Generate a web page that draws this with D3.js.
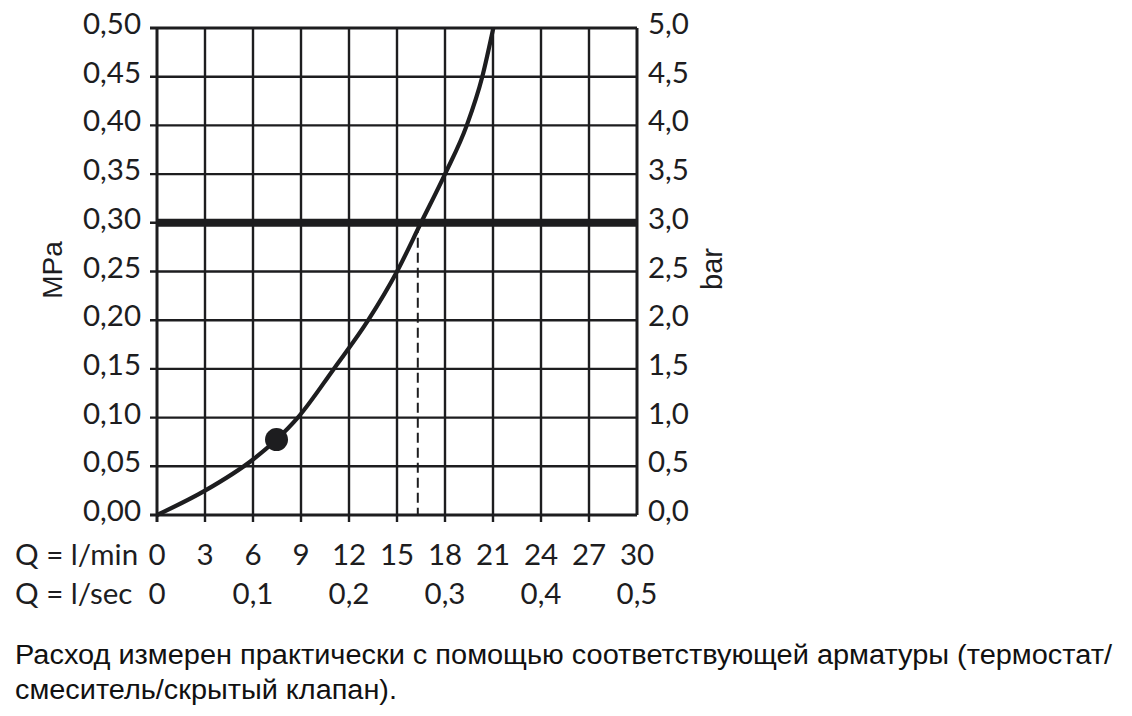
<!DOCTYPE html>
<html><head><meta charset="utf-8">
<script src="https://cdn.jsdelivr.net/npm/d3@7"></script>
<style>
html,body{margin:0;padding:0;background:#fff;}
svg{display:block;}
</style></head>
<body>
<svg id="chart" width="1132" height="716"></svg>
<script>
// ---- data ----
const flowLmin = [0, 3, 6, 7.47, 8.8, 11.05, 13.2, 15.0, 16.5, 18.0, 19.36, 20.33, 21.02];
const pressureMPa = [0, 0.025, 0.057, 0.0775, 0.10, 0.15, 0.20, 0.25, 0.30, 0.35, 0.40, 0.45, 0.50];
const markerPoint = [7.47, 0.0775];
const refPressure = 0.30;
const refFlow = 16.3;
const xTicksLmin = [0, 3, 6, 9, 12, 15, 18, 21, 24, 27, 30];
const xTicksLsec = [0, 0.1, 0.2, 0.3, 0.4, 0.5];
const yTicksMPa = [0, 0.05, 0.10, 0.15, 0.20, 0.25, 0.30, 0.35, 0.40, 0.45, 0.50];
const yTicksBar = [0, 0.5, 1.0, 1.5, 2.0, 2.5, 3.0, 3.5, 4.0, 4.5, 5.0];
const labelLmin = "Q = l/min";
const labelLsec = "Q = l/sec";
const labelMPa = "MPa";
const labelBar = "bar";
const noteLines = ["Расход измерен практически с помощью соответствующей арматуры (термостат/", "смеситель/скрытый клапан)."];

// ---- layout ----
const svg = d3.select("#chart");
const L = 157, R = 637, T = 28, B = 515;
const x = d3.scaleLinear().domain([0, 30]).range([L, R]);
const y = d3.scaleLinear().domain([0, 0.5]).range([B, T]);
const xs = d3.scaleLinear().domain([0, 0.5]).range([L, R]);
const yb = d3.scaleLinear().domain([0, 5]).range([B, T]);
const fmt = (v, d) => v.toFixed(d).replace(".", ",");
const numFont = "Lato, 'Open Sans', sans-serif";
const numSize = 29.5;
const numWeight = 400;
const ink = "#1d1d1f";

// grid
const g = svg.append("g");
g.selectAll("line.v").data(xTicksLmin).join("line")
  .attr("x1", d => x(d)).attr("x2", d => x(d))
  .attr("y1", T).attr("y2", d => (d === 30 ? B : B + 7))
  .attr("stroke", ink).attr("stroke-width", d => (d === 0 || d === 30) ? 3 : 2.4);
g.selectAll("line.h").data(yTicksMPa).join("line")
  .attr("x1", L - 7).attr("x2", R)
  .attr("y1", d => y(d)).attr("y2", d => y(d))
  .attr("stroke", ink).attr("stroke-width", d => (d === 0 || d === 0.5) ? 3.2 : 2.4);

// thick reference line
g.append("line").attr("x1", L).attr("x2", R)
  .attr("y1", y(refPressure)).attr("y2", y(refPressure))
  .attr("stroke", ink).attr("stroke-width", 8);

// dashed line
g.append("line").attr("x1", x(refFlow)).attr("x2", x(refFlow))
  .attr("y1", y(refPressure)).attr("y2", B)
  .attr("stroke", ink).attr("stroke-width", 2).attr("stroke-dasharray", "10,5");

// curve
const line = d3.line().x(d => x(d[0])).y(d => y(d[1])).curve(d3.curveMonotoneX);
g.append("path").datum(flowLmin.map((q, i) => [q, pressureMPa[i]]))
  .attr("d", line).attr("fill", "none").attr("stroke", ink).attr("stroke-width", 4.2)
  .attr("stroke-linecap", "butt");

// marker
g.append("circle").attr("cx", x(markerPoint[0])).attr("cy", y(markerPoint[1]))
  .attr("r", 11.5).attr("fill", ink);

function numText(sel) {
  return sel.attr("font-family", numFont).attr("font-weight", numWeight)
    .attr("font-size", numSize).attr("fill", ink);
}
// left labels
svg.append("g").selectAll("text").data(yTicksMPa).join("text")
  .attr("x", 141).attr("y", d => y(d) + 6)
  .attr("text-anchor", "end").call(numText).text(d => fmt(d, 2));
// right labels
svg.append("g").selectAll("text").data(yTicksBar).join("text")
  .attr("x", 648).attr("y", d => yb(d) + 6)
  .attr("text-anchor", "start").call(numText).text(d => fmt(d, 1));
// bottom labels
svg.append("g").selectAll("text").data(xTicksLmin).join("text")
  .attr("x", d => x(d)).attr("y", 565)
  .attr("text-anchor", "middle").call(numText).text(d => String(d));
svg.append("g").selectAll("text").data(xTicksLsec).join("text")
  .attr("x", d => xs(d)).attr("y", 604)
  .attr("text-anchor", "middle").call(numText).text(d => d === 0 ? "0" : fmt(d, 1));
svg.append("text").attr("x", 15).attr("y", 565).call(numText).text(labelLmin);
svg.append("text").attr("x", 15).attr("y", 604).call(numText).text(labelLsec);

// axis titles
svg.append("text").attr("transform", "translate(62,270) rotate(-90)")
  .attr("text-anchor", "middle").attr("font-family", "'Liberation Sans', Arial, sans-serif")
  .attr("font-size", 28).attr("fill", ink).text(labelMPa);
svg.append("text").attr("transform", "translate(722,269) rotate(-90)")
  .attr("text-anchor", "middle").attr("font-family", "'Liberation Sans', Arial, sans-serif")
  .attr("font-size", 29).attr("fill", ink).text(labelBar);

// note
const noteY = [664, 699];
const noteW = [1097, 382];
svg.append("g").selectAll("text").data(noteLines).join("text")
  .attr("x", 15).attr("y", (d, i) => noteY[i])
  .attr("font-family", "'Liberation Sans', Arial, sans-serif").attr("font-size", 27)
  .attr("fill", "#111").attr("textLength", (d, i) => noteW[i]).attr("lengthAdjust", "spacingAndGlyphs")
  .text(d => d);
</script>
</body></html>
